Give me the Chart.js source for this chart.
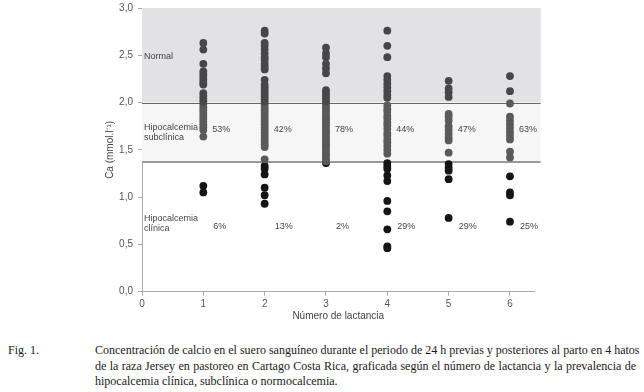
<!DOCTYPE html>
<html>
<head>
<meta charset="utf-8">
<script src="https://cdn.jsdelivr.net/npm/chart.js@4.4.0/dist/chart.umd.min.js"></script>
<style>
  body { margin: 0; background: #fff; width: 644px; height: 392px; overflow: hidden; position: relative; }
  #wrap { position: absolute; left: 0; top: 0; width: 644px; height: 326px; }
  .cap { position: absolute; font-family: "Liberation Serif", "Times New Roman", serif; font-size: 12px; line-height: 14px; color: #1a1a1a; white-space: nowrap; }
  .linea { left: 95px; width: 541px; text-align: justify; text-align-last: justify; }
  .ultima { text-align: left; text-align-last: left; }
</style>
</head>
<body>
<div id="wrap"><canvas id="calcio" width="644" height="326"></canvas></div>
<div class="cap" style="left:8px;top:343px;">Fig. 1.</div>
<div class="cap linea" style="top:343px;">Concentración de calcio en el suero sanguíneo durante el periodo de 24 h previas y posteriores al parto en 4 hatos</div>
<div class="cap linea" style="top:359px;">de la raza Jersey en pastoreo en Cartago Costa Rica, graficada según el número de lactancia y la prevalencia de</div>
<div class="cap linea ultima" style="top:374px;">hipocalcemia clínica, subclínica o normocalcemia.</div>
<script>
// número de lactancia (eje x)
const lactancias = [1, 2, 3, 4, 5, 6];

// Ca sérico (mmol/l), una lista por lactancia
const normales = [
  [2.63, 2.56, 2.41, 2.33, 2.30, 2.27, 2.24, 2.21, 2.19, 2.10, 2.07, 2.04, 2.01],
  [2.76, 2.73, 2.63, 2.60, 2.56, 2.52, 2.48, 2.45, 2.41, 2.38, 2.35, 2.24, 2.19, 2.16, 2.13, 2.10, 2.07, 2.04, 2.01],
  [2.58, 2.52, 2.48, 2.41, 2.36, 2.31, 2.13, 2.10, 2.07, 2.04, 2.01],
  [2.76, 2.60, 2.48, 2.28, 2.24, 2.20, 2.16, 2.12, 2.08, 2.05],
  [2.23, 2.15, 2.11, 2.06],
  [2.28, 2.12]
];
const subclinicas = [
  [1.98, 1.95, 1.92, 1.89, 1.86, 1.83, 1.80, 1.77, 1.74, 1.71, 1.64],
  [1.98, 1.95, 1.92, 1.89, 1.86, 1.83, 1.80, 1.77, 1.74, 1.71, 1.68, 1.65, 1.62, 1.59, 1.56, 1.53, 1.40],
  [1.98, 1.95, 1.93, 1.90, 1.87, 1.84, 1.82, 1.79, 1.76, 1.73, 1.70, 1.68, 1.65, 1.62, 1.59, 1.56, 1.54, 1.51, 1.48, 1.45, 1.43, 1.40, 1.38],
  [1.97, 1.93, 1.90, 1.86, 1.83, 1.79, 1.76, 1.72, 1.68, 1.65, 1.61, 1.58, 1.54, 1.50, 1.46],
  [1.88, 1.85, 1.81, 1.75, 1.71, 1.67, 1.63, 1.60, 1.47],
  [1.99, 1.85, 1.81, 1.77, 1.73, 1.69, 1.65, 1.61, 1.48, 1.42]
];
const clinicas = [
  [1.12, 1.05],
  [1.33, 1.30, 1.24, 1.10, 1.02, 0.93],
  [1.36],
  [1.36, 1.33, 1.30, 1.23, 1.17, 0.96, 0.85, 0.66, 0.48, 0.46],
  [1.35, 1.31, 1.28, 1.19, 0.78],
  [1.22, 1.05, 1.02, 0.74]
];

// prevalencias
const pctSubclinica = ["53%", "42%", "78%", "44%", "47%", "63%"];
const pctClinica = ["6%", "13%", "2%", "29%", "29%", "25%"];

// límites de las zonas
const limiteNormal = 2.0;
const limiteClinica = 1.375;

function puntos(grupos) {
  let pts = [];
  grupos.forEach((vals, i) => {
    vals.forEach((v) => pts.push({ x: lactancias[i], y: v }));
  });
  return pts;
}

const zonas = {
  id: "zonas",
  beforeDatasetsDraw(chart) {
    const { ctx, scales } = chart;
    const x0 = scales.x.getPixelForValue(0);
    const x1 = scales.x.getPixelForValue(6.5);
    const yTop = scales.y.getPixelForValue(3);
    const yN = scales.y.getPixelForValue(limiteNormal);
    const yC = scales.y.getPixelForValue(limiteClinica);
    ctx.save();
    ctx.fillStyle = "#e2e2e4";
    ctx.fillRect(x0, yTop, x1 - x0, yN - yTop);
    ctx.fillStyle = "#f6f6f6";
    ctx.fillRect(x0, yN, x1 - x0, yC - yN);
    ctx.strokeStyle = "#666";
    ctx.lineWidth = 1;
    ctx.beginPath();
    ctx.moveTo(x0, Math.round(yN) + 0.5);
    ctx.lineTo(x1, Math.round(yN) + 0.5);
    ctx.stroke();
    ctx.strokeStyle = "#999";
    ctx.lineWidth = 2;
    ctx.beginPath();
    ctx.moveTo(x0, Math.round(yC));
    ctx.lineTo(x1, Math.round(yC));
    ctx.stroke();
    ctx.restore();
  },
  afterDatasetsDraw(chart) {
    const { ctx, scales } = chart;
    const xs = scales.x, ys = scales.y;
    ctx.save();
    ctx.font = '9px "Liberation Sans", Arial, sans-serif';
    ctx.fillStyle = "#444";
    ctx.textBaseline = "middle";
    ctx.textAlign = "left";
    const xl = xs.getPixelForValue(0) + 2;
    ctx.fillText("Normal", xl, ys.getPixelForValue(2.49));
    ctx.fillText("Hipocalcemia", xl, ys.getPixelForValue(1.735));
    ctx.fillText("subclínica", xl, ys.getPixelForValue(1.63));
    ctx.fillText("Hipocalcemia", xl, ys.getPixelForValue(0.77));
    ctx.fillText("clínica", xl, ys.getPixelForValue(0.67));
    for (let i = 0; i < lactancias.length; i++) {
      const px = xs.getPixelForValue(lactancias[i]);
      ctx.fillText(pctSubclinica[i], px + 9, ys.getPixelForValue(1.71));
      ctx.fillText(pctClinica[i], px + 10, ys.getPixelForValue(0.69));
    }
    ctx.restore();
  }
};

const ctx = document.getElementById("calcio");
window.miGrafico = new Chart(ctx, {
  type: "scatter",
  data: {
    datasets: [
      { label: "Normal", data: puntos(normales), backgroundColor: "#474747" },
      { label: "Subclínica", data: puntos(subclinicas), backgroundColor: "#5a5a5a" },
      { label: "Clínica", data: puntos(clinicas), backgroundColor: "#151515" }
    ]
  },
  options: {
    responsive: false,
    animation: false,
    devicePixelRatio: 1,
    layout: { padding: { left: 100, right: 109.5, top: 8, bottom: 0 } },
    elements: { point: { radius: 3.9, borderWidth: 0, hoverRadius: 3.9 } },
    plugins: { legend: { display: false }, tooltip: { enabled: false } },
    scales: {
      x: {
        type: "linear",
        min: 0,
        max: 6.4,
        afterFit: (s) => { s.height = 34.3; s.paddingLeft = 0; s.paddingRight = 0; },
        ticks: { stepSize: 1, includeBounds: false, color: "#555", padding: 3, font: { size: 10, family: '"Liberation Sans", Arial, sans-serif' } },
        grid: { drawOnChartArea: false, tickLength: 4, color: "#aaa" },
        border: { color: "#aaa" },
        title: { display: true, text: "Número de lactancia", color: "#444", padding: { top: 2, bottom: 4 }, font: { size: 10, family: '"Liberation Sans", Arial, sans-serif' } }
      },
      y: {
        min: 0,
        max: 3,
        afterFit: (s) => { s.width = 42; s.paddingTop = 0; s.paddingBottom = 0; },
        ticks: {
          stepSize: 0.5,
          color: "#555",
          padding: 5,
          font: { size: 10, family: '"Liberation Sans", Arial, sans-serif' },
          callback: (v) => v.toFixed(1).replace(".", ",")
        },
        grid: { drawOnChartArea: false, tickLength: 4, color: "#aaa" },
        border: { color: "#aaa" },
        title: { display: true, text: "Ca (mmol.l⁻¹)", color: "#444", padding: 4, font: { size: 10, family: '"Liberation Sans", Arial, sans-serif' } }
      }
    }
  },
  plugins: [zonas]
});
</script>
</body>
</html>
